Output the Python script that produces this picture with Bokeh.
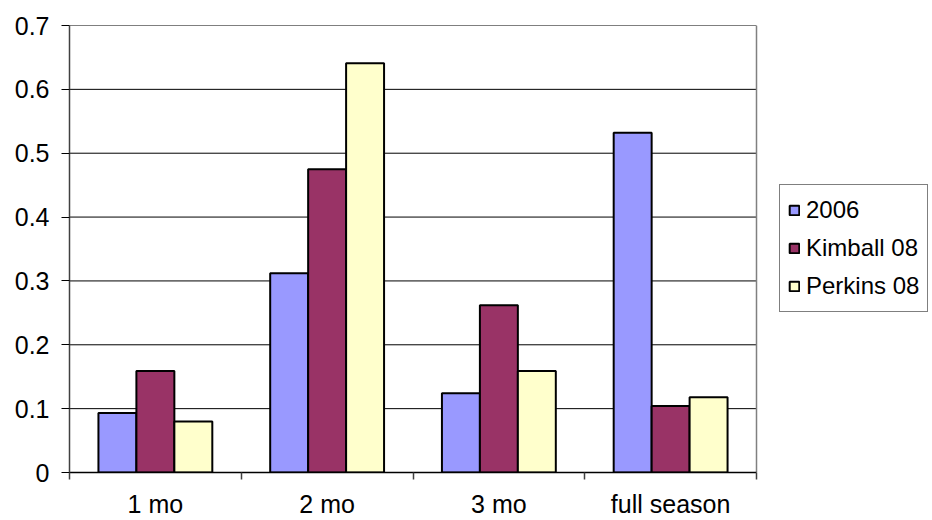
import numpy as np
from bokeh.plotting import figure
from bokeh.models import ColumnDataSource, FixedTicker, Legend, LegendItem, Range1d
from bokeh.embed import file_html
from bokeh.resources import INLINE

# Chart data
categories = ["1 mo", "2 mo", "3 mo", "full season"]
series_names = ["2006", "Kimball 08", "Perkins 08"]
vals_2006 = [0.093, 0.312, 0.124, 0.532]
vals_kimball = [0.159, 0.475, 0.262, 0.104]
vals_perkins = [0.080, 0.641, 0.159, 0.118]
y_ticks = [0, 0.1, 0.2, 0.3, 0.4, 0.5, 0.6, 0.7]

colors = ["#9999FF", "#993366", "#FFFFCC"]
FONT = "Liberation Sans"
BAR_W = 0.221

W, H = 932, 520
LEFT, TOP, BOTTOM = 69, 25, 48
PLOT_RIGHT = 756  # right edge of the bar area; the legend sits beyond it
n = len(categories)
x_end = n * (W - LEFT) / (PLOT_RIGHT - LEFT)

p = figure(
    width=W, height=H,
    x_range=Range1d(0, x_end), y_range=Range1d(0, 0.7),
    output_backend="svg", toolbar_location=None,
    min_border_left=LEFT, min_border_right=0,
    min_border_top=TOP, min_border_bottom=BOTTOM,
)
p.background_fill_color = "white"
p.border_fill_color = "white"
p.outline_line_color = None
p.xgrid.grid_line_color = None
p.ygrid.grid_line_color = None

# horizontal gridlines and right border of the bar area
p.segment(x0=0, x1=n, y0=y_ticks[1:], y1=y_ticks[1:], line_color="black", line_width=1)
p.segment(x0=n, x1=n, y0=0, y1=y_ticks[-1], line_color="#808080", line_width=1.5)

centers = np.arange(n) + 0.5
renderers = []
for i, (name, vals) in enumerate(zip(series_names, [vals_2006, vals_kimball, vals_perkins])):
    src = ColumnDataSource(dict(x=centers + (i - 1) * BAR_W, top=vals))
    r = p.vbar(x="x", top="top", width=BAR_W, bottom=0, source=src,
               fill_color=colors[i], line_color="black", line_width=2)
    renderers.append((name, r))

# y axis
p.yaxis.ticker = FixedTicker(ticks=y_ticks)
p.yaxis.major_label_overrides = {t: ("0" if t == 0 else f"{t:.1f}") for t in y_ticks}
p.yaxis.axis_line_color = "#404040"
p.yaxis.axis_line_width = 1.5
p.yaxis.major_tick_out = 8
p.yaxis.major_tick_in = 0
p.yaxis.minor_tick_line_color = None
p.yaxis.major_tick_line_color = "black"
p.yaxis.major_label_standoff = 12
p.yaxis.major_label_text_font = FONT
p.yaxis.major_label_text_font_size = "25px"
p.yaxis.major_label_text_color = "black"

# x axis: labels at category centres, ticks at category boundaries
p.xaxis.bounds = (0, n)
p.xaxis.ticker = FixedTicker(ticks=list(centers), minor_ticks=list(range(n + 1)))
p.xaxis.major_label_overrides = {float(c): lab for c, lab in zip(centers, categories)}
p.xaxis.axis_line_color = "black"
p.xaxis.axis_line_width = 1.5
p.xaxis.major_tick_line_color = None
p.xaxis.major_tick_out = 0
p.xaxis.major_tick_in = 0
p.xaxis.minor_tick_out = 7
p.xaxis.minor_tick_in = 0
p.xaxis.minor_tick_line_color = "#404040"
p.xaxis.minor_tick_line_width = 1.5
p.xaxis.major_label_standoff = 10
p.xaxis.major_label_text_font = FONT
p.xaxis.major_label_text_font_size = "25px"
p.xaxis.major_label_text_color = "black"

legend = Legend(
    items=[LegendItem(label=nm, renderers=[r]) for nm, r in renderers],
    location=(779 - LEFT, H - BOTTOM - 312),
    label_text_font=FONT, label_text_font_size="24px", label_text_color="black",
    glyph_width=12, glyph_height=12, label_standoff=6, label_height=34,
    spacing=4, padding=8, margin=0,
    border_line_color="black", border_line_width=1,
    background_fill_color="white", background_fill_alpha=1,
)
p.add_layout(legend, "center")

open("out.html", "w").write(file_html(p, INLINE))
